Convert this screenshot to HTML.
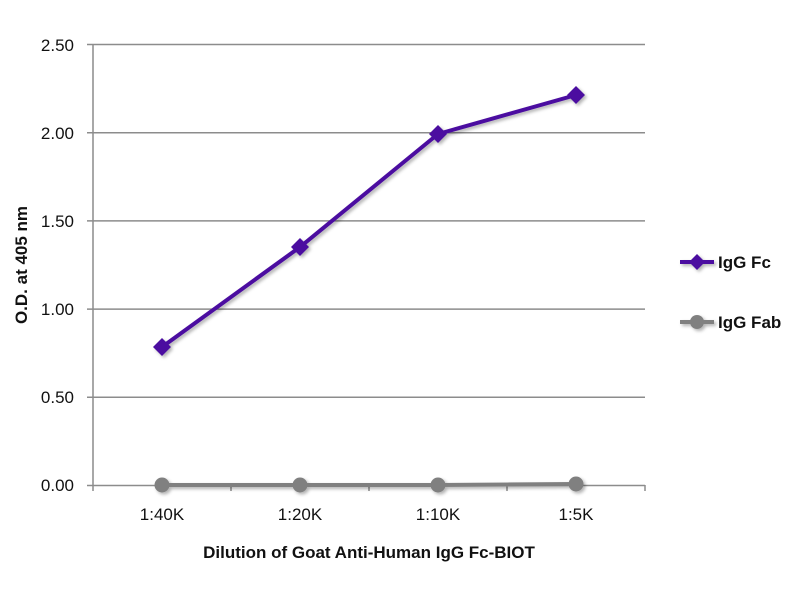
<!DOCTYPE html><html><head><style>body{margin:0;background:#fff}svg{display:block}</style></head><body>
<svg width="800" height="600" xmlns="http://www.w3.org/2000/svg" font-family="Liberation Sans, sans-serif">
<defs><filter id="s" x="-20%" y="-20%" width="140%" height="140%"><feDropShadow dx="2" dy="2" stdDeviation="1.5" flood-color="#000" flood-opacity="0.3"/></filter></defs>
<g stroke="#8c8c8c" stroke-width="1.5">
<line x1="87" y1="44.5" x2="645" y2="44.5"/><line x1="87" y1="132.7" x2="645" y2="132.7"/><line x1="87" y1="220.9" x2="645" y2="220.9"/><line x1="87" y1="309.1" x2="645" y2="309.1"/><line x1="87" y1="397.3" x2="645" y2="397.3"/><line x1="87" y1="485.5" x2="645" y2="485.5"/>
<line x1="93" y1="44" x2="93" y2="491"/>
<line x1="231" y1="485" x2="231" y2="491"/><line x1="369" y1="485" x2="369" y2="491"/><line x1="507" y1="485" x2="507" y2="491"/><line x1="645" y1="485" x2="645" y2="491"/>
</g>
<g font-size="17" fill="#111" text-anchor="end">
<text x="74" y="51">2.50</text><text x="74" y="139">2.00</text><text x="74" y="227">1.50</text><text x="74" y="315">1.00</text><text x="74" y="403">0.50</text><text x="74" y="491">0.00</text>
</g>
<g font-size="17" fill="#111" text-anchor="middle">
<text x="162" y="520">1:40K</text><text x="300" y="520">1:20K</text><text x="438" y="520">1:10K</text><text x="576" y="520">1:5K</text>
</g>
<text x="369" y="558" font-size="17" font-weight="bold" text-anchor="middle" fill="#111">Dilution of Goat Anti-Human IgG Fc-BIOT</text>
<text transform="translate(27,265) rotate(-90)" font-size="17" font-weight="bold" text-anchor="middle" fill="#111">O.D. at 405 nm</text>
<g filter="url(#s)">
<polyline points="162,485 300,485 438,485 576,484" fill="none" stroke="#808080" stroke-width="4"/>
<g fill="#808080"><circle cx="162" cy="485" r="7.5"/><circle cx="300" cy="485" r="7.5"/><circle cx="438" cy="485" r="7.5"/><circle cx="576" cy="484" r="7.5"/></g>
<polyline points="162,347 300,247 438,134 576,95" fill="none" stroke="#4b0fa0" stroke-width="4"/>
<g fill="#4b0fa0"><path d="M162,338l9,9-9,9-9-9z"/><path d="M300,238l9,9-9,9-9-9z"/><path d="M438,125l9,9-9,9-9-9z"/><path d="M576,86l9,9-9,9-9-9z"/></g>
<line x1="680" y1="262" x2="714" y2="262" stroke="#4b0fa0" stroke-width="4"/><path d="M697,254l8,8-8,8-8-8z" fill="#4b0fa0"/>
<line x1="680" y1="322" x2="714" y2="322" stroke="#808080" stroke-width="4"/><circle cx="697" cy="322" r="7" fill="#808080"/>
</g>
<text x="718" y="268" font-size="17" font-weight="bold" fill="#111">IgG Fc</text>
<text x="718" y="328" font-size="17" font-weight="bold" fill="#111">IgG Fab</text>
</svg></body></html>
